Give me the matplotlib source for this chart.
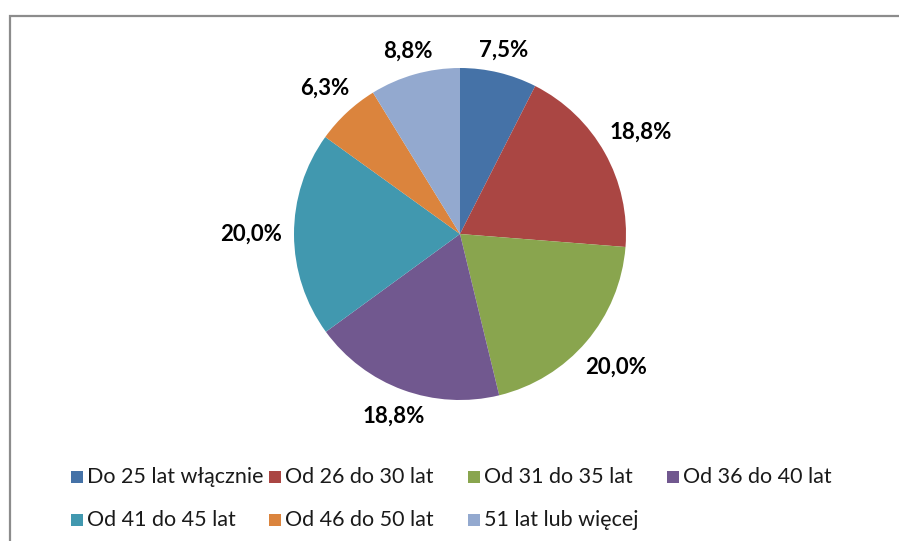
import numpy as np
import matplotlib
matplotlib.use("Agg")
import matplotlib.pyplot as plt
from matplotlib.patches import Rectangle

# age groups and their shares (%)
categories = ["Do 25 lat włącznie", "Od 26 do 30 lat", "Od 31 do 35 lat",
              "Od 36 do 40 lat", "Od 41 do 45 lat", "Od 46 do 50 lat",
              "51 lat lub więcej"]
values = [7.5, 18.8, 20.0, 18.8, 20.0, 6.3, 8.8]
pct_labels = ["7,5%", "18,8%", "20,0%", "18,8%", "20,0%", "6,3%", "8,8%"]
colors = ["#4572A7", "#AA4643", "#89A54E", "#71588F", "#4198AF", "#DB843D", "#93A9CF"]

plt.rcParams['font.family'] = ['Lato', 'DejaVu Sans']

W, H = 899, 541
fig = plt.figure(figsize=(W / 100, H / 100), dpi=100)

# pie axes: centre (460, 234) px, radius 166 px
R = 166
lim = 1.4
side = 2 * lim * R
cx, cy = 460, H - 234
ax = fig.add_axes([(cx - side / 2) / W, (cy - side / 2) / H, side / W, side / H])

wedges, _ = ax.pie(values, colors=colors, startangle=90, counterclock=False,
                   radius=1, wedgeprops=dict(linewidth=0))
ax.set_xlim(-lim, lim)
ax.set_ylim(-lim, lim)
ax.set_aspect('equal', adjustable='box')
ax.axis('off')

# percentage labels outside the wedges, box just clear of the edge
texts = []
for lab in pct_labels:
    texts.append(ax.text(0, 0, lab, ha='center', va='center',
                         fontsize=16, fontweight='bold', color='black'))
fig.canvas.draw()
renderer = fig.canvas.get_renderer()
for w, t in zip(wedges, texts):
    bb = t.get_window_extent(renderer)
    hw, hh = bb.width / 2 / R, bb.height / 2 / R * 0.55
    th = np.deg2rad((w.theta1 + w.theta2) / 2)
    c, s = np.cos(th), np.sin(th)
    d = 1.07 + hw * abs(c) + hh * abs(s)
    t.set_position((d * c, d * s))

# chart border (cut off on the right and bottom)
fig.patches.append(Rectangle((9.5 / W, -0.05), 1.1, (H - 15.5) / H + 0.05,
                             transform=fig.transFigure, fill=False,
                             edgecolor='#8c8c8c', linewidth=1.6))

# legend, Excel-like fixed columns
col_x = [71, 269, 468, 667]
row_y = [477, 520]
sq = 12
for i, (lab, col) in enumerate(zip(categories, colors)):
    r, cidx = divmod(i, 4)
    x0, y0 = col_x[cidx], row_y[r]
    fig.patches.append(Rectangle((x0 / W, (H - y0 - sq / 2) / H), sq / W, sq / H,
                                 transform=fig.transFigure, facecolor=col,
                                 edgecolor='none'))
    fig.text((x0 + sq + 4) / W, (H - y0) / H, lab, ha='left', va='center',
             fontsize=15.5, color='#1a1a1a')

fig.savefig("out.png", dpi=100)
